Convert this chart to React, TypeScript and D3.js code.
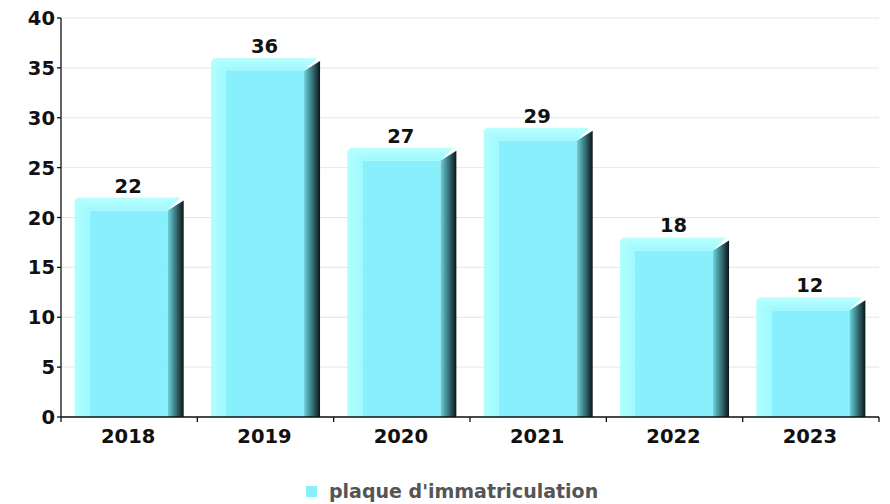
import * as d3 from "d3";

const years = ["2018", "2019", "2020", "2021", "2022", "2023"];
const counts = [22, 36, 27, 29, 18, 12];
const yTicks = [0, 5, 10, 15, 20, 25, 30, 35, 40];
const seriesName = "plaque d'immatriculation";

const W = 890;
const H = 504;
const margin = { top: 18, right: 11, bottom: 87, left: 61 };
const font = "'DejaVu Sans', sans-serif";
const fs = 19.5;

export default function App() {
    const x = d3.scaleBand<string>()
        .domain(years)
        .range([margin.left, W - margin.right])
        .paddingInner(0.2)
        .paddingOuter(0.1);
    const y = d3.scaleLinear()
        .domain([0, 40])
        .range([H - margin.bottom, margin.top]);

    const y0 = y(0);
    const bw = x.bandwidth();
    const bevX = 15;
    const bevY = 13;
    const side = 16;
    // band edges for the x axis ticks
    const edges = years.map((_, i) => margin.left + i * x.step()).concat([W - margin.right]);

    return (
        <svg width={W} height={H} style={{ position: "absolute", left: 0, top: 0 }} fontFamily={font}>
            <defs>
                <linearGradient id="sideGrad" x1="0" x2="1" y1="0" y2="0">
                    <stop offset="0" stopColor="#6fd3dc" />
                    <stop offset="0.45" stopColor="#3b7f86" />
                    <stop offset="1" stopColor="#0b1516" />
                </linearGradient>
                <linearGradient id="topGrad" x1="0" x2="0" y1="0" y2="1">
                    <stop offset="0" stopColor="#bcffff" />
                    <stop offset="1" stopColor="#9cf8fe" />
                </linearGradient>
                <linearGradient id="leftGrad" x1="0" x2="1" y1="0" y2="0">
                    <stop offset="0" stopColor="#b2ffff" />
                    <stop offset="1" stopColor="#9ef9fe" />
                </linearGradient>
            </defs>

            {yTicks.map(t => (
                <line key={"g" + t} x1={margin.left} x2={W - margin.right} y1={y(t)} y2={y(t)}
                    stroke="#e6e6e6" strokeWidth={1} />
            ))}

            {years.map((yr, i) => {
                const x0 = x(yr)!;
                const x1 = x0 + bw;
                const yT = y(counts[i]);
                const leftPts = `${x0},${yT + 3} ${x0 + bevX},${yT + bevY} ${x0 + bevX},${y0} ${x0},${y0}`;
                const topPts = `${x0 + 3},${yT} ${x1 - 3},${yT} ${x1 - side},${yT + bevY} ${x0 + bevX},${yT + bevY} ${x0},${yT + 3}`;
                const sidePts = `${x1},${yT + 3} ${x1 - side},${yT + bevY} ${x1 - side},${y0} ${x1},${y0}`;
                return (
                    <g key={yr}>
                        <rect x={x0 + bevX} y={yT + bevY} width={bw - bevX - side} height={y0 - yT - bevY} fill="#88f0fc" />
                        <polygon points={leftPts} fill="url(#leftGrad)" />
                        <polygon points={topPts} fill="url(#topGrad)" />
                        <polygon points={sidePts} fill="url(#sideGrad)" />
                        <text x={x0 + bw / 2 - 1} y={yT - 5} textAnchor="middle" fontWeight="bold"
                            fontSize={fs} fill="#111">{counts[i]}</text>
                    </g>
                );
            })}

            <line x1={margin.left} x2={margin.left} y1={margin.top} y2={y0} stroke="#111" strokeWidth={1.3} />
            <line x1={margin.left} x2={W - margin.right} y1={y0} y2={y0} stroke="#111" strokeWidth={1.3} />
            {yTicks.map(t => (
                <g key={"t" + t}>
                    <line x1={margin.left - 4} x2={margin.left} y1={y(t)} y2={y(t)} stroke="#111" strokeWidth={1.3} />
                    <text x={margin.left - 6} y={y(t) + 7} textAnchor="end" fontWeight="bold" fontSize={fs}
                        fill="#111">{t}</text>
                </g>
            ))}
            {edges.map((e, i) => (
                <line key={"e" + i} x1={e} x2={e} y1={y0} y2={y0 + 5} stroke="#111" strokeWidth={1.3} />
            ))}
            {years.map(yr => (
                <text key={"l" + yr} x={x(yr)! + bw / 2 - 1} y={y0 + 26} textAnchor="middle" fontWeight="bold"
                    fontSize={fs} fill="#111">{yr}</text>
            ))}

            <rect x={306} y={486} width={11} height={11} fill="#88f0fc" />
            <text x={329} y={498} fontWeight="bold" fontSize={19} fill="#555">{seriesName}</text>
        </svg>
    );
}
